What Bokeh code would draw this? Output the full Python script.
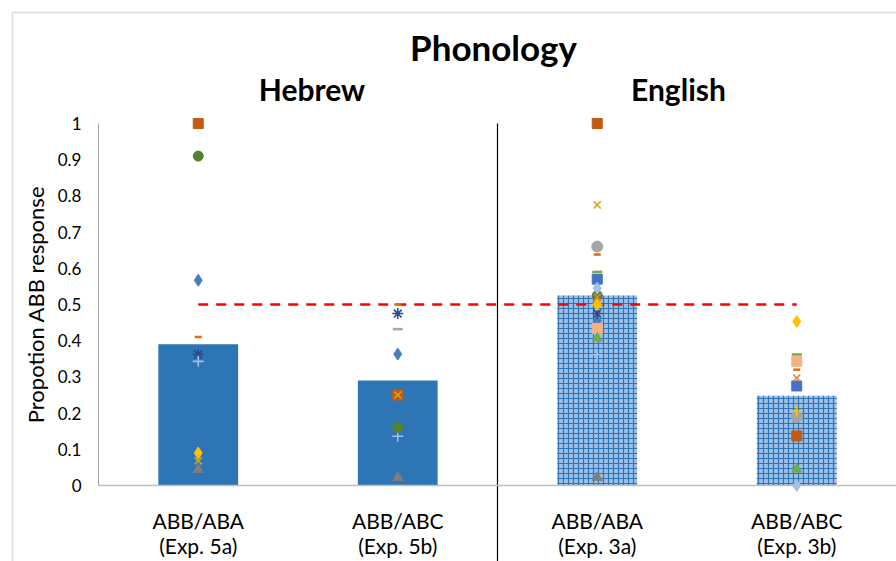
import numpy as np
from bokeh.plotting import figure
from bokeh.models import Range1d, Label, BoxAnnotation, FixedTicker
from bokeh.embed import file_html
from bokeh.resources import INLINE

nan = np.nan

# ---------------- data ----------------
categories = ["ABB/ABA\n(Exp. 5a)", "ABB/ABC\n(Exp. 5b)",
              "ABB/ABA\n(Exp. 3a)", "ABB/ABC\n(Exp. 3b)"]
bar_means = [0.39, 0.29, 0.525, 0.248]
languages = ["Hebrew", "English"]
chart_title = "Phonology"
chance_level = 0.5
y_ticks = [0.0, 0.1, 0.2, 0.3, 0.4, 0.5, 0.6, 0.7, 0.8, 0.9, 1.0]
y_tick_labels = ["0", "0.1", "0.2", "0.3", "0.4", "0.5", "0.6", "0.7", "0.8", "0.9", "1"]

# individual points, values per condition [5a, 5b, 3a, 3b]
p01 = [0.567, 0.363, 0.455, nan]
p02 = [1.0, 0.25, 1.0, 0.137]
p03 = [0.044, 0.022, 0.022, nan]
p04 = [0.068, 0.25, 0.775, nan]
p05 = [0.362, 0.475, 0.475, nan]
p06 = [0.343, 0.136, 0.362, nan]
p07 = [0.41, 0.5, 0.638, 0.32]
p08 = [0.91, 0.16, 0.525, nan]
p09 = [0.09, nan, 0.5, 0.453]
p10 = [nan, 0.432, nan, nan]
p11 = [nan, nan, 0.66, 0.19]
p12 = [nan, nan, 0.59, 0.362]
p13 = [nan, nan, 0.57, 0.275]
p14 = [nan, nan, 0.545, 0.0]
p15 = [nan, nan, 0.434, 0.343]
p16 = [nan, nan, 0.407, 0.045]
p17 = [nan, nan, 0.52, 0.297]
p18 = [nan, nan, 0.5, 0.205]
series = [p01, p02, p03, p04, p05, p06, p07, p08, p09,
          p10, p11, p12, p13, p14, p15, p16, p17, p18]

# styles (marker, colour, size)
series_styles = [
    ("diamond", "#4A7EBB", 12),
    ("square", "#C55A11", 10),
    ("triangle", "#7F7F7F", 10),
    ("x", "#D4A520", 10),
    ("asterisk", "#2B4A8C", 11),
    ("cross", "#9DC3E6", 11),
    ("dash", "#E46C0A", 7),
    ("circle", "#548235", 10),
    ("diamond", "#FFC000", 12),
    ("dash", "#A5A5A5", 10),
    ("circle", "#A5A5A5", 11),
    ("dash", "#70AD47", 10),
    ("square", "#4472C4", 10),
    ("diamond", "#9DC3E6", 12),
    ("square", "#F4B183", 10),
    ("triangle", "#70AD47", 10),
    ("x", "#ED7D31", 10),
    ("cross", "#FFC000", 11),
]

FONT = "Lato"

n = len(categories)
x_pos = list(np.arange(n) + 0.5)          # category centres on a numeric scale
x_edges = float(n)

p = figure(width=896, height=561, title=None,
           x_range=Range1d(-0.4912, x_edges), y_range=Range1d(-0.2099, 1.3398),
           output_backend="svg", toolbar_location=None,
           min_border_left=0, min_border_right=0, min_border_top=0, min_border_bottom=0)
p.outline_line_color = None
p.xgrid.grid_line_color = None
p.ygrid.grid_line_color = None
p.background_fill_color = "white"
p.border_fill_color = "white"

# bars
p.vbar(x=x_pos[:2], top=bar_means[:2], width=0.4, fill_color="#2E75B6", line_color=None)
p.vbar(x=x_pos[2:], top=bar_means[2:], width=0.4, fill_color="#9DC0E6",
       hatch_pattern="+", hatch_color="#2E75B6", hatch_scale=5, hatch_weight=1.2,
       line_color=None)

# chance line
p.line(x=[x_pos[0], x_pos[-1]], y=[chance_level, chance_level], line_color="#FF0000",
       line_width=2.5, line_dash="10 8")

# points
for vals, (mk, col, sz) in zip(series, series_styles):
    xs = [c for c, v in zip(x_pos, vals) if not np.isnan(v)]
    ys = [v for v in vals if not np.isnan(v)]
    if mk in ("x", "cross", "asterisk", "dash"):
        p.scatter(x=xs, y=ys, marker=mk, size=sz, line_color=col,
                  line_width=1.6 if mk != "dash" else 2.5)
    else:
        p.scatter(x=xs, y=ys, marker=mk, size=sz, fill_color=col, line_color=col)

# divider between languages (runs down through the category labels)
p.segment(x0=[n / 2], y0=[max(y_ticks)], x1=[n / 2], y1=[p.y_range.start],
          line_color="black", line_width=1.2)

# axes
p.yaxis.fixed_location = 0
p.yaxis.bounds = (0, 1)
p.yaxis.ticker = FixedTicker(ticks=y_ticks)
p.yaxis.major_label_overrides = {t: l for t, l in zip(y_ticks, y_tick_labels)}
p.yaxis.major_tick_line_color = None
p.yaxis.minor_tick_line_color = None
p.yaxis.axis_line_color = "#A6A6A6"
p.yaxis.major_label_standoff = 11
p.yaxis.major_label_text_font = FONT
p.yaxis.major_label_text_font_size = "17px"
p.yaxis.major_label_text_color = "black"
p.yaxis.axis_label = "Propotion ABB response"
p.yaxis.axis_label_text_font = FONT
p.yaxis.axis_label_text_font_size = "22px"
p.yaxis.axis_label_text_font_style = "normal"
p.yaxis.axis_label_text_color = "black"
p.yaxis.axis_label_standoff = 6

p.xaxis.fixed_location = 0
p.xaxis.bounds = (0, x_edges)
p.xaxis.ticker = FixedTicker(ticks=x_pos)
p.xaxis.major_label_overrides = {float(x): c for x, c in zip(x_pos, categories)}
p.xaxis.major_tick_line_color = None
p.xaxis.minor_tick_line_color = None
p.xaxis.axis_line_color = "#BFBFBF"
p.xaxis.axis_line_width = 1.5
p.xaxis.major_label_standoff = 16
p.xaxis.major_label_text_font = FONT
p.xaxis.major_label_text_font_size = "21px"
p.xaxis.major_label_text_color = "black"
p.xaxis.major_label_text_line_height = 1.0

# titles
p.add_layout(Label(x=1.98, y=1.212, text=chart_title, text_font=FONT, text_font_size="35px",
                   text_font_style="bold", text_align="center", text_baseline="middle",
                   text_color="black"))
p.add_layout(Label(x=1.07, y=1.096, text=languages[0], text_font=FONT, text_font_size="30px",
                   text_font_style="bold", text_align="center", text_baseline="middle",
                   text_color="black"))
p.add_layout(Label(x=2.907, y=1.096, text=languages[1], text_font=FONT, text_font_size="30px",
                   text_font_style="bold", text_align="center", text_baseline="middle",
                   text_color="black"))

# chart border
p.add_layout(BoxAnnotation(left=12, top=12, right=3000, bottom=3000,
                           left_units="canvas", right_units="canvas", top_units="canvas",
                           bottom_units="canvas", fill_alpha=0, line_color="#8C8C8C",
                           line_width=1.5))

open("out.html", "w").write(file_html(p, INLINE))
